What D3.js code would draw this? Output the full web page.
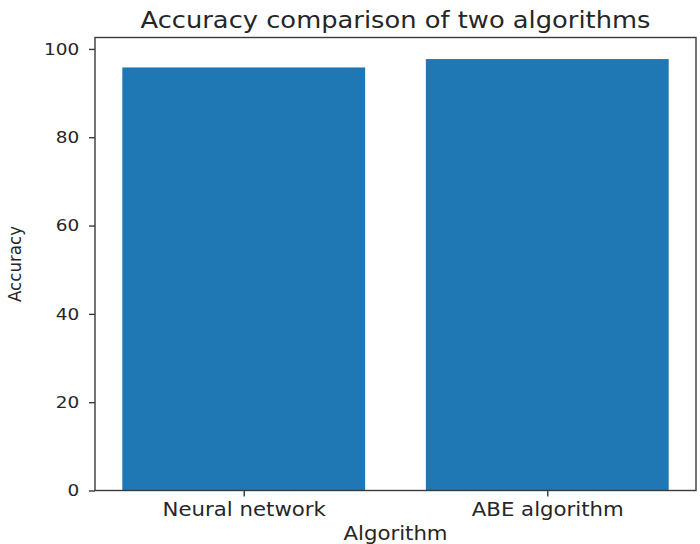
<!DOCTYPE html>
<html>
<head>
<meta charset="utf-8">
<script src="https://cdn.jsdelivr.net/npm/d3@7"></script>
<style>
  body { margin: 0; background: #fff; }
  text { font-family: "DejaVu Sans", sans-serif; fill: #262626; }
</style>
</head>
<body>
<svg id="chart" width="700" height="544"></svg>
<script>
const algorithms = ["Neural network", "ABE algorithm"];
const accuracy = [95.8, 97.7];
const yTicks = [0, 20, 40, 60, 80, 100];

const plotLeft = 95, plotRight = 696, plotTop = 37.5, plotBottom = 490.5;
const stretch = "scale(1.12,1)";  // the reference text is a bit wide

const svg = d3.select("#chart");

const x = d3.scaleLinear()
  .domain([-0.49, 1.49])
  .range([plotLeft, plotRight]);
const y = d3.scaleLinear()
  .domain([0, d3.max(accuracy) * 1.05])
  .range([plotBottom, plotTop]);

// bars
svg.selectAll("rect.bar")
  .data(accuracy)
  .enter()
  .append("rect")
  .attr("class", "bar")
  .attr("x", (d, i) => x(i - 0.4))
  .attr("width", (d, i) => x(i + 0.4) - x(i - 0.4))
  .attr("y", d => y(d))
  .attr("height", d => plotBottom - y(d))
  .style("fill", "#1f77b4");

// frame
svg.append("rect")
  .attr("x", plotLeft)
  .attr("y", plotTop)
  .attr("width", plotRight - plotLeft)
  .attr("height", plotBottom - plotTop)
  .style("fill", "none")
  .style("stroke", "#3a3a3a")
  .style("stroke-width", 1.4);

// axes
const yAxis = d3.axisLeft(y)
  .tickValues(yTicks)
  .tickSize(6)
  .tickPadding(8);
const xAxis = d3.axisBottom(x)
  .tickValues(algorithms.map((d, i) => i))
  .tickFormat(i => algorithms[i])
  .tickSize(6)
  .tickPadding(6);

const gy = svg.append("g")
  .attr("transform", "translate(" + plotLeft + ",0)")
  .call(yAxis);
const gx = svg.append("g")
  .attr("transform", "translate(0," + plotBottom + ")")
  .call(xAxis);

[gx, gy].forEach(g => {
  g.select(".domain").remove();
  g.selectAll(".tick line").style("stroke", "#3a3a3a").style("stroke-width", 1.4);
  g.selectAll(".tick text")
    .attr("transform", stretch)
    .style("font-family", "'DejaVu Sans', sans-serif")
    .style("fill", "#262626");
});
gx.selectAll(".tick text").style("font-size", "19px");
gy.selectAll(".tick text").style("font-size", "16.5px");

// title and labels
svg.append("text")
  .attr("transform", "translate(" + (plotLeft + plotRight) / 2 + ",28) " + stretch)
  .style("text-anchor", "middle")
  .style("font-size", "23px")
  .text("Accuracy comparison of two algorithms");

svg.append("text")
  .attr("transform", "translate(" + (plotLeft + plotRight) / 2 + ",540) " + stretch)
  .style("text-anchor", "middle")
  .style("font-size", "19px")
  .text("Algorithm");

svg.append("text")
  .attr("transform", "translate(21," + (plotTop + plotBottom) / 2 + ") rotate(-90)")
  .style("text-anchor", "middle")
  .style("font-family", "'DejaVu Sans Condensed', 'DejaVu Sans', sans-serif")
  .style("font-stretch", "condensed")
  .style("font-size", "18.5px")
  .text("Accuracy");
</script>
</body>
</html>
